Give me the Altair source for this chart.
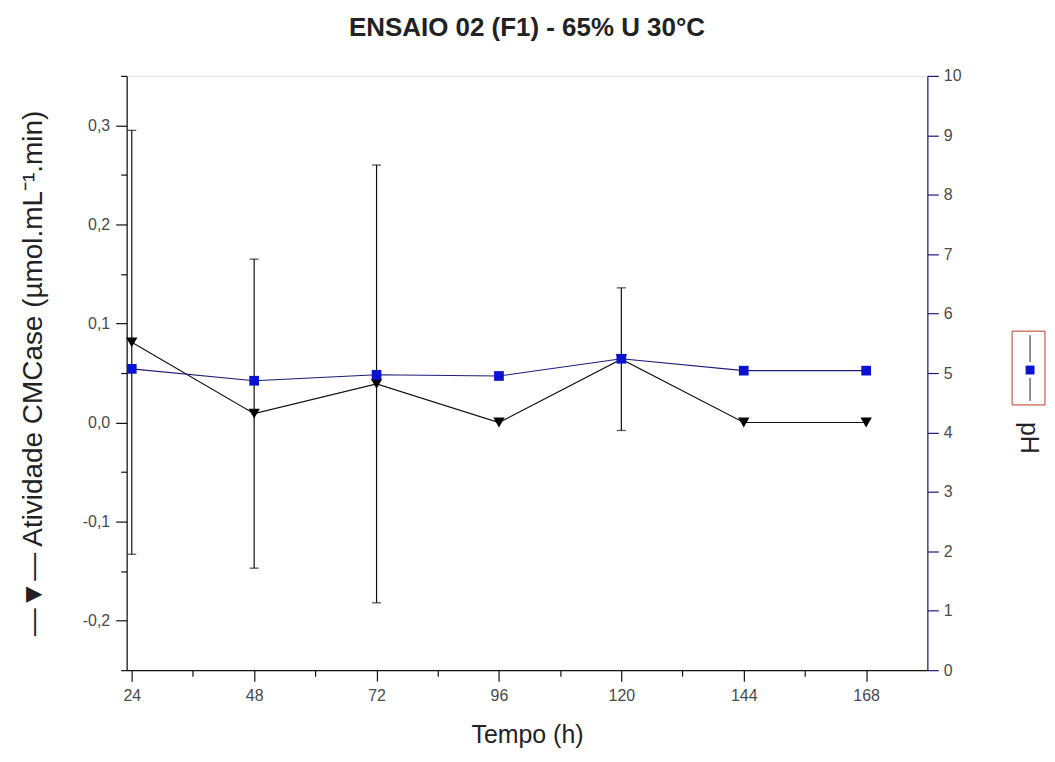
import altair as alt
import pandas as pd

# ---- data ----
tempo = [24, 48, 72, 96, 120, 144, 168]
atividade = [0.081, 0.009, 0.039, 0.0, 0.064, 0.0, 0.0]
desvio = [0.214, 0.156, 0.221, 0.0, 0.072, 0.0, 0.0]
ph = [5.07, 4.87, 4.97, 4.95, 5.24, 5.04, 5.04]

df = pd.DataFrame({"tempo": tempo, "atividade": atividade, "desvio": desvio, "ph": ph})
df["lo"] = df["atividade"] - df["desvio"]
df["hi"] = df["atividade"] + df["desvio"]

FONT = "Liberation Sans"
NAVY = "#1c1c78"
BLUE = "#0a14d0"
LABEL = "#4a4a4a"

x_vals = list(range(24, 169, 12))
y_vals = [round(-0.25 + 0.05 * i, 2) for i in range(13)]
ph_vals = [round(0.5 * i, 1) for i in range(21)]

x_enc = alt.X(
    "tempo:Q",
    scale=alt.Scale(domain=[23, 180], nice=False, zero=False),
    axis=alt.Axis(
        title="Tempo (h)",
        values=x_vals,
        labelExpr="datum.value % 24 === 0 ? datum.label : ''",
        tickSize={"condition": {"test": "datum.value % 24 === 0", "value": 11}, "value": 6},
        grid=False,
        domainColor="#111",
        tickColor="#111",
        domainWidth=1.2,
        tickWidth=1.2,
        labelFont=FONT,
        labelFontSize=16,
        labelColor=LABEL,
        labelPadding=6,
        titleFont=FONT,
        titleFontSize=25,
        titleFontWeight="normal",
        titleColor="#222",
        titlePadding=20,
    ),
)

y_left = alt.Y(
    "atividade:Q",
    scale=alt.Scale(domain=[-0.25, 0.35], nice=False, zero=False),
    axis=alt.Axis(
        title="\u2014\u25bc\u2014 Atividade CMCase (\u00b5mol.mL\u207b\u00b9.min)",
        values=y_vals,
        labelExpr="abs(datum.value*10 - round(datum.value*10)) < 0.001 ? replace(replace(format(datum.value, '.1f'), '.', ','), '\u2212', '-') : ''",
        tickSize={"condition": {"test": "abs(datum.value*10 - round(datum.value*10)) < 0.001", "value": 11}, "value": 6},
        grid=False,
        domainColor="#111",
        tickColor="#111",
        domainWidth=1.2,
        tickWidth=1.2,
        labelFont=FONT,
        labelFontSize=16,
        labelColor=LABEL,
        labelPadding=6,
        titleFont=FONT,
        titleFontSize=28,
        titleFontWeight="normal",
        titleColor="#222",
        titlePadding=35,
    ),
)

base = alt.Chart(df)

err_rule = base.transform_filter("datum.desvio > 0").mark_rule(color="#111", strokeWidth=1.2).encode(
    x=x_enc, y=alt.Y("lo:Q", scale=alt.Scale(domain=[-0.25, 0.35], nice=False, zero=False)), y2="hi:Q"
)
cap_hi = base.transform_filter("datum.desvio > 0").mark_tick(
    orient="horizontal", size=9, thickness=1.3, color="#111"
).encode(x="tempo:Q", y="hi:Q")
cap_lo = base.transform_filter("datum.desvio > 0").mark_tick(
    orient="horizontal", size=9, thickness=1.3, color="#111"
).encode(x="tempo:Q", y="lo:Q")

act_line = base.mark_line(color="#111", strokeWidth=1.1).encode(x="tempo:Q", y=y_left)
act_pts = base.mark_point(shape="triangle-down", filled=True, size=130, color="#000", opacity=1).encode(
    x="tempo:Q", y="atividade:Q"
)

left = alt.layer(act_line, err_rule, cap_hi, cap_lo, act_pts)

y_right = alt.Y(
    "ph:Q",
    scale=alt.Scale(domain=[0, 10], nice=False, zero=False),
    axis=alt.Axis(
        title=None,
        orient="right",
        values=ph_vals,
        labelExpr="datum.value % 1 === 0 ? format(datum.value, 'd') : ''",
        tickSize={"condition": {"test": "datum.value % 1 === 0", "value": 11}, "value": 6},
        grid=False,
        domainColor=NAVY,
        tickColor=NAVY,
        domainWidth=1.2,
        tickWidth=1.2,
        labelFont=FONT,
        labelFontSize=16,
        labelColor=LABEL,
        labelPadding=5,
    ),
)

ph_line = base.mark_line(color=NAVY, strokeWidth=1.1).encode(x="tempo:Q", y=y_right)
ph_pts = base.mark_point(shape="square", filled=True, size=95, color=BLUE, opacity=1).encode(
    x="tempo:Q", y="ph:Q"
)
right = alt.layer(ph_line, ph_pts)

# ---- right-hand legend for the pH series ----
one = pd.DataFrame({"k": [0]})
leg_box = alt.Chart(one).mark_rect(fill=None, stroke="#c0392b", strokeWidth=1).encode(
    x=alt.value(888), x2=alt.value(921), y=alt.value(256), y2=alt.value(330)
)
leg_l1 = alt.Chart(one).mark_rule(color="#222", strokeWidth=1).encode(
    x=alt.value(906), y=alt.value(260), y2=alt.value(287)
)
leg_l2 = alt.Chart(one).mark_rule(color="#222", strokeWidth=1).encode(
    x=alt.value(906), y=alt.value(303), y2=alt.value(326)
)
leg_sq = alt.Chart(one).mark_point(shape="square", filled=True, size=80, color=BLUE, opacity=1).encode(
    x=alt.value(906), y=alt.value(295)
)
leg_txt = alt.Chart(one).mark_text(
    text="pH", angle=90, font=FONT, fontSize=25, color="#222", align="center", baseline="middle"
).encode(x=alt.value(905), y=alt.value(363))

chart = (
    alt.layer(left, right, leg_box, leg_l1, leg_l2, leg_sq, leg_txt)
    .resolve_scale(y="independent")
    .properties(
        width=803,
        height=596,
        title=alt.TitleParams(
            "ENSAIO 02 (F1) - 65% U 30\u00b0C",
            font=FONT,
            fontSize=26,
            fontWeight="bold",
            color="#222",
            offset=27,
        ),
        autosize=alt.AutoSizeParams(type="none"),
        padding={"left": 119, "top": 67, "right": 120, "bottom": 83},
    )
    .configure_view(stroke=None)
    .configure(background="white")
)

chart.save("out.html", embed_options={"renderer": "svg", "actions": False})
